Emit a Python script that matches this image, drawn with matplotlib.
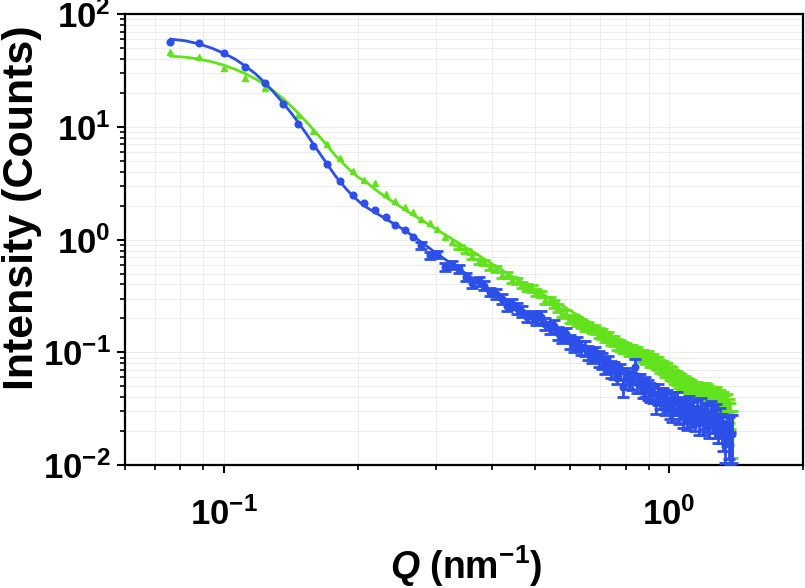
import numpy as np
import matplotlib
matplotlib.use('Agg')
import matplotlib.pyplot as plt
from matplotlib.ticker import LogLocator, FuncFormatter, NullFormatter

# scattering vector Q (nm^-1), shared by both curves
q = [0.076, 0.088, 0.100, 0.112, 0.124, 0.136, 0.147, 0.159, 0.171, 0.183,
     0.195, 0.207, 0.219, 0.231, 0.243, 0.255, 0.266, 0.278, 0.290, 0.302,
     0.314, 0.326, 0.338, 0.350, 0.362, 0.374, 0.385, 0.397, 0.409, 0.421,
     0.433, 0.445, 0.457, 0.469, 0.481, 0.493, 0.504, 0.516, 0.528, 0.540,
     0.552, 0.564, 0.576, 0.588, 0.600, 0.612, 0.623, 0.635, 0.647, 0.659,
     0.671, 0.683, 0.695, 0.707, 0.719, 0.731, 0.742, 0.754, 0.766, 0.778,
     0.790, 0.802, 0.814, 0.826, 0.838, 0.850, 0.861, 0.873, 0.885, 0.897,
     0.909, 0.921, 0.933, 0.945, 0.957, 0.969, 0.980, 0.992, 1.004, 1.016,
     1.028, 1.040, 1.052, 1.064, 1.076, 1.088, 1.099, 1.111, 1.123, 1.135,
     1.147, 1.159, 1.171, 1.183, 1.195, 1.207, 1.218, 1.230, 1.242, 1.254,
     1.266, 1.278, 1.290, 1.302, 1.314, 1.326, 1.337, 1.349, 1.361, 1.373,
     1.385]

blue_I = [57, 55, 45, 34, 24.3, 16.1, 10.7, 6.7, 4.7, 3.3,
          2.48, 2.1, 1.83, 1.58, 1.34, 1.21, 1.06, 0.89, 0.73, 0.74,
          0.57, 0.60, 0.55, 0.47, 0.41, 0.43, 0.39, 0.345, 0.33, 0.30,
          0.26, 0.27, 0.247, 0.23, 0.207, 0.21, 0.20, 0.207, 0.18, 0.165,
          0.17, 0.148, 0.14, 0.145, 0.125, 0.116, 0.12, 0.111, 0.109, 0.100,
          0.095, 0.098, 0.088, 0.085, 0.077, 0.080, 0.072, 0.070, 0.063, 0.068,
          0.049, 0.062, 0.058, 0.056, 0.074, 0.054, 0.054, 0.049, 0.050, 0.047,
          0.045, 0.044, 0.036, 0.043, 0.040, 0.040, 0.036, 0.038, 0.033, 0.031,
          0.036, 0.036, 0.030, 0.033, 0.028, 0.031, 0.027, 0.033, 0.029, 0.031,
          0.027, 0.030, 0.025, 0.031, 0.025, 0.028, 0.027, 0.024, 0.029, 0.027,
          0.024, 0.027, 0.022, 0.025, 0.022, 0.019, 0.017, 0.021, 0.019, 0.015,
          0.019]

blue_rel_err = [0, 0, 0, 0, 0, 0, 0, 0, 0, 0,
                0, 0, 0, 0, 0, 0, 0, 0.07, 0.07, 0.07,
                0.08, 0.08, 0.08, 0.08, 0.09, 0.09, 0.09, 0.09, 0.10, 0.10,
                0.10, 0.10, 0.11, 0.11, 0.11, 0.11, 0.12, 0.12, 0.12, 0.12,
                0.13, 0.13, 0.13, 0.13, 0.14, 0.14, 0.14, 0.14, 0.15, 0.15,
                0.15, 0.15, 0.16, 0.16, 0.16, 0.16, 0.17, 0.17, 0.17, 0.17,
                0.18, 0.18, 0.18, 0.18, 0.19, 0.19, 0.19, 0.19, 0.20, 0.20,
                0.20, 0.20, 0.21, 0.21, 0.21, 0.21, 0.22, 0.22, 0.22, 0.22,
                0.23, 0.23, 0.23, 0.23, 0.24, 0.24, 0.24, 0.24, 0.25, 0.25,
                0.25, 0.25, 0.26, 0.26, 0.26, 0.26, 0.27, 0.27, 0.27, 0.27,
                0.28, 0.28, 0.28, 0.28, 0.29, 0.30, 0.38, 0.30, 0.40, 0.32,
                0.45]

green_I = [46, 42, 33, 27, 22, 17, 12.7, 9.2, 7.0, 5.3,
           4.1, 3.4, 3.15, 2.54, 2.19, 1.95, 1.74, 1.51, 1.39, 1.23,
           1.05, 0.96, 0.86, 0.80, 0.71, 0.64, 0.63, 0.57, 0.55, 0.49,
           0.49, 0.44, 0.43, 0.40, 0.38, 0.37, 0.34, 0.33, 0.29, 0.29,
           0.27, 0.25, 0.225, 0.22, 0.20, 0.20, 0.19, 0.18, 0.17, 0.172,
           0.162, 0.160, 0.150, 0.147, 0.138, 0.137, 0.128, 0.127, 0.118, 0.116,
           0.111, 0.110, 0.104, 0.104, 0.099, 0.100, 0.094, 0.093, 0.089, 0.091,
           0.085, 0.086, 0.081, 0.080, 0.075, 0.074, 0.070, 0.070, 0.066, 0.065,
           0.061, 0.060, 0.057, 0.056, 0.053, 0.054, 0.052, 0.050, 0.049, 0.047,
           0.046, 0.047, 0.045, 0.046, 0.044, 0.046, 0.044, 0.043, 0.041, 0.042,
           0.040, 0.041, 0.038, 0.039, 0.036, 0.037, 0.034, 0.035, 0.031, 0.028,
           0.021]

green_rel_err = [0, 0, 0, 0, 0, 0, 0, 0, 0, 0,
                 0, 0, 0, 0, 0, 0, 0, 0, 0, 0,
                 0, 0, 0.04, 0.04, 0.05, 0.05, 0.05, 0.05, 0.06, 0.06,
                 0.06, 0.06, 0.06, 0.06, 0.07, 0.07, 0.07, 0.07, 0.07, 0.07,
                 0.08, 0.08, 0.08, 0.08, 0.08, 0.08, 0.09, 0.09, 0.09, 0.09,
                 0.09, 0.09, 0.10, 0.10, 0.10, 0.10, 0.10, 0.10, 0.11, 0.11,
                 0.11, 0.11, 0.11, 0.11, 0.12, 0.12, 0.12, 0.12, 0.12, 0.12,
                 0.13, 0.13, 0.13, 0.13, 0.13, 0.13, 0.14, 0.14, 0.14, 0.14,
                 0.14, 0.14, 0.15, 0.15, 0.15, 0.15, 0.15, 0.15, 0.16, 0.16,
                 0.16, 0.16, 0.17, 0.17, 0.17, 0.17, 0.18, 0.18, 0.18, 0.18,
                 0.19, 0.19, 0.19, 0.20, 0.20, 0.21, 0.22, 0.22, 0.24, 0.26,
                 0.45]

# fitted model curves
blue_fit_q = [0.076, 0.082, 0.088, 0.094, 0.100, 0.106, 0.112, 0.118, 0.124, 0.130,
              0.136, 0.142, 0.148, 0.154, 0.160, 0.166, 0.172, 0.178, 0.184, 0.190,
              0.196, 0.202, 0.210, 0.220, 0.230, 0.240, 0.250, 0.265, 0.280, 0.300,
              0.325, 0.350, 0.375, 0.40, 0.45, 0.50, 0.55, 0.60, 0.65, 0.70,
              0.80, 0.90, 1.00, 1.10, 1.20, 1.30, 1.385]
blue_fit = [60, 58, 54.5, 50, 45, 40, 34.5, 29.5, 24.5, 20,
            16.3, 13.2, 10.6, 8.5, 6.8, 5.5, 4.5, 3.7, 3.15, 2.72,
            2.4, 2.15, 1.92, 1.72, 1.55, 1.40, 1.27, 1.09, 0.93, 0.76,
            0.61, 0.50, 0.415, 0.35, 0.265, 0.205, 0.165, 0.135, 0.112, 0.094,
            0.070, 0.054, 0.043, 0.035, 0.029, 0.025, 0.022]

green_fit_q = [0.076, 0.082, 0.088, 0.094, 0.100, 0.106, 0.112, 0.118, 0.124, 0.130,
               0.136, 0.142, 0.148, 0.154, 0.160, 0.166, 0.172, 0.178, 0.185, 0.192,
               0.200, 0.210, 0.220, 0.230, 0.240, 0.250, 0.265, 0.280, 0.300, 0.325,
               0.350, 0.375, 0.40, 0.45, 0.50, 0.55, 0.60, 0.65, 0.70, 0.80,
               0.90, 1.00, 1.10, 1.20, 1.30, 1.385]
green_fit = [42.4, 41.5, 40, 37.8, 35.3, 32.5, 29.6, 26.6, 23.6, 20.6,
             17.8, 15.2, 12.9, 10.9, 9.2, 7.8, 6.6, 5.6, 4.8, 4.15,
             3.6, 3.2, 2.75, 2.42, 2.16, 1.95, 1.68, 1.47, 1.24, 1.02,
             0.85, 0.72, 0.61, 0.46, 0.36, 0.29, 0.235, 0.195, 0.163, 0.120,
             0.092, 0.072, 0.058, 0.048, 0.040, 0.035]

blue = '#2B4FE8'
green = '#62E21C'

plt.rcParams['font.family'] = ['Liberation Sans', 'DejaVu Sans']
plt.rcParams['mathtext.fontset'] = 'custom'
plt.rcParams['mathtext.rm'] = 'Liberation Sans:bold'
plt.rcParams['mathtext.bf'] = 'Liberation Sans:bold'
plt.rcParams['mathtext.it'] = 'Liberation Sans:bold:italic'

fig = plt.figure(figsize=(8.05, 5.88), dpi=100)
ax = fig.add_axes([0.155, 0.209, 0.8425, 0.767])

q = np.array(q)


def draw(I, rel, fq, fv, color, marker, ms, z):
    I = np.array(I)
    err = I * np.array(rel)
    m = err > 0
    ax.plot(q, I, linestyle='none', marker=marker, ms=ms, color=color, zorder=z)
    ax.errorbar(q[m], I[m], yerr=err[m], fmt='none', ecolor=color,
                elinewidth=2.0, capsize=4.2, capthick=2.0, zorder=z)
    ax.plot(fq, fv, color=color, lw=2.0, zorder=z + 0.5)


draw(green_I, green_rel_err, green_fit_q, green_fit, green, '^', 5, 2)
draw(blue_I, blue_rel_err, blue_fit_q, blue_fit, blue, 'o', 4.8, 4)

ax.set_xscale('log')
ax.set_yscale('log')
ax.set_xlim(0.06, 2.0)
ax.set_ylim(0.01, 100)

fmt = FuncFormatter(lambda v, p: r'$\mathbf{10^{%d}}$' % round(np.log10(v)))
for axis in (ax.xaxis, ax.yaxis):
    axis.set_major_locator(LogLocator(base=10))
    axis.set_minor_locator(LogLocator(base=10, subs=np.arange(2, 10)))
    axis.set_major_formatter(fmt)
    axis.set_minor_formatter(NullFormatter())

ax.grid(True, which='both', color='#ececec', lw=0.7)
ax.set_axisbelow(True)

for s in ax.spines.values():
    s.set_linewidth(1.6)

ax.tick_params(which='both', direction='out', top=False, right=False, width=1.5)
ax.tick_params(which='major', length=6, labelsize=25)
ax.tick_params(which='minor', length=3.5, width=1.2)
ax.tick_params(axis='x', which='major', pad=17)
ax.tick_params(axis='y', which='major', pad=4)

fig.text(466 / 805, 1 - 566 / 588, r'$Q$ (nm$^{\mathbf{-1}}$)',
         fontsize=27, fontweight='bold', ha='center', va='center')
fig.text(22 / 805, 1 - 208 / 588, 'Intensity (Counts)', rotation=90,
         fontsize=31, fontweight='bold', ha='center', va='center')

fig.savefig('out.png', dpi=100)
